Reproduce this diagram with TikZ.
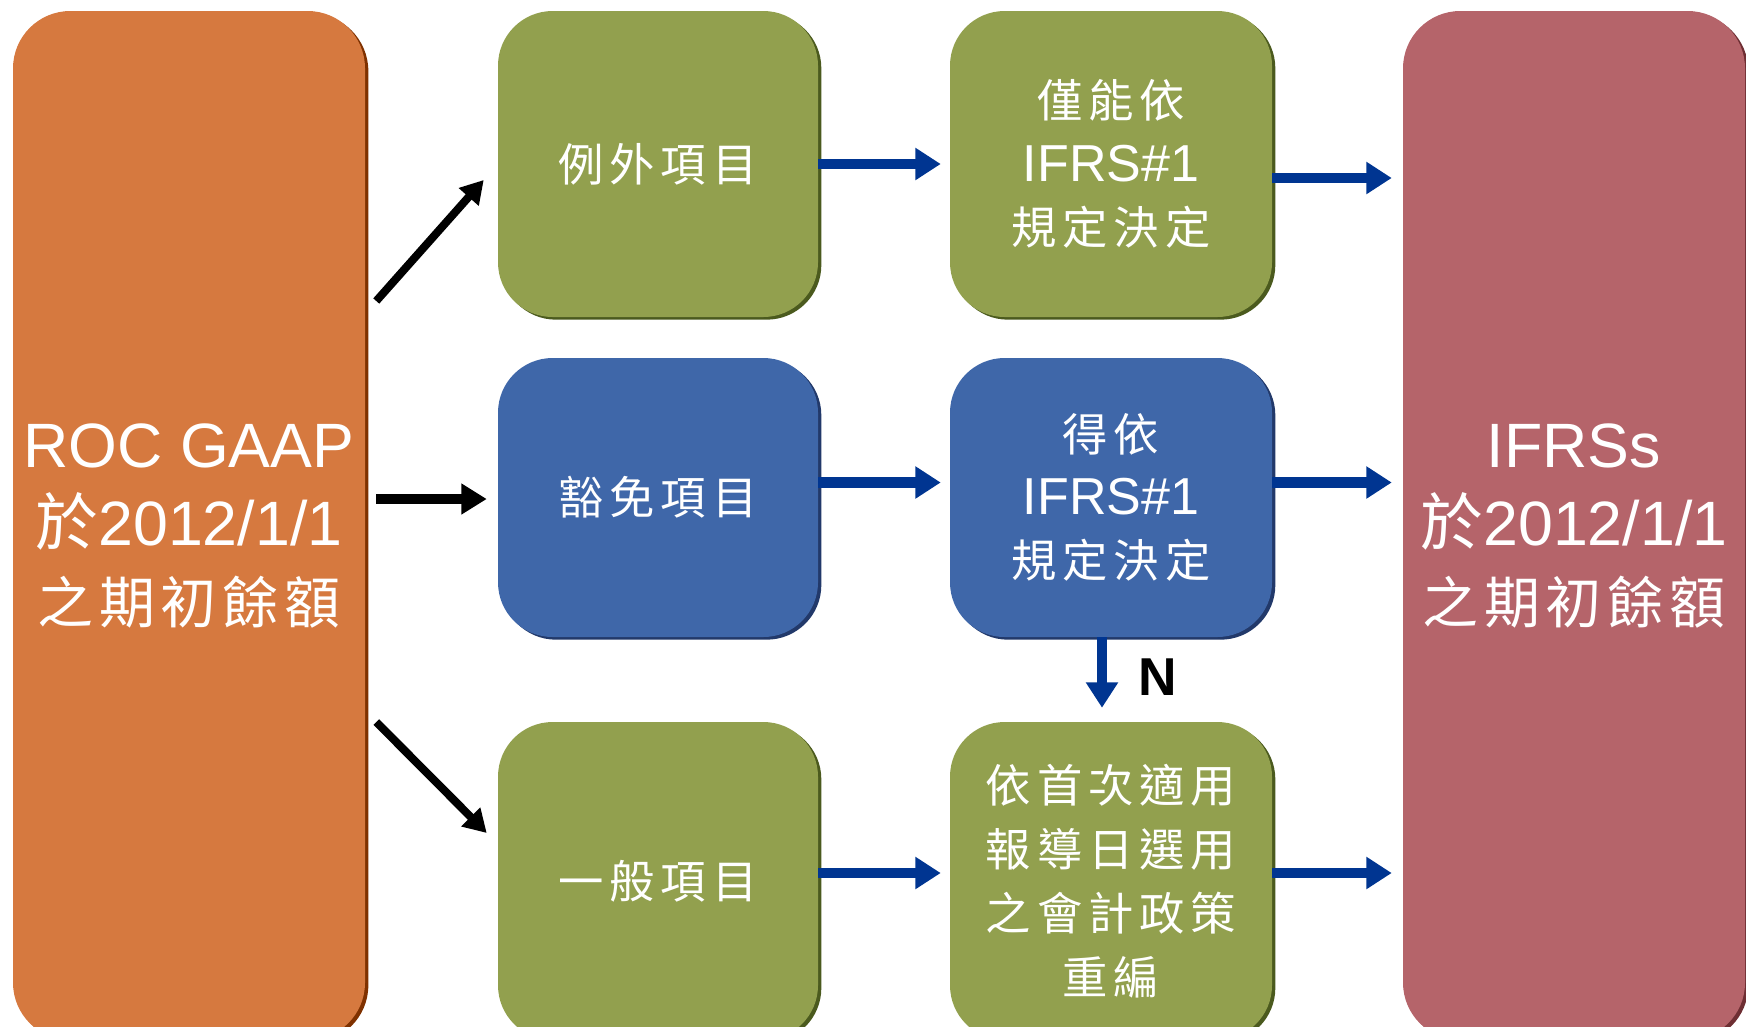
\documentclass[tikz,border=0pt]{standalone}
\usepackage{fontspec}
\setmainfont{Liberation Sans}
\newfontfamily\cjk{Noto Sans CJK TC}[LetterSpace=13]
\newfontfamily\cjkbig{Noto Sans CJK TC}[LetterSpace=10]
\usetikzlibrary{arrows.meta,calc,shadows}
\definecolor{cOrange}{HTML}{D6793F}
\definecolor{cOrangeD}{HTML}{7F3100}
\definecolor{cGreen}{HTML}{92A04E}
\definecolor{cGreenD}{HTML}{4B5A1E}
\definecolor{cBlue}{HTML}{3F67A9}
\definecolor{cBlueD}{HTML}{22396A}
\definecolor{cRed}{HTML}{B5646A}
\definecolor{cRedD}{HTML}{6E2E33}
\definecolor{cArrow}{HTML}{003591}
\tikzset{
  boxbase/.style={rounded corners=41pt, inner sep=0pt, text=white, align=center},
  bigbox/.style={boxbase, rounded corners=43pt, minimum height=771.75pt,
     font=\fontsize{47}{58.5}\selectfont},
  smallbox/.style={boxbase, font=\fontsize{39}{47.5}\selectfont},
  orangebox/.style={bigbox, fill=cOrange, minimum width=264pt,
     general shadow={fill=cOrangeD, shadow xshift=2.5pt, shadow yshift=-2pt}},
  redbox/.style={bigbox, fill=cRed, minimum width=256.5pt,
     general shadow={fill=cRedD, shadow xshift=2.5pt, shadow yshift=-2pt}},
  greenbox/.style={smallbox, fill=cGreen,
     general shadow={fill=cGreenD, shadow xshift=2.5pt, shadow yshift=-2pt}},
  bluebox/.style={smallbox, fill=cBlue,
     general shadow={fill=cBlueD, shadow xshift=2.5pt, shadow yshift=-2pt}},
  barrow/.style={draw=cArrow, line width=8pt, -{Triangle[length=19pt,width=23pt]}},
  karrow/.style={draw=black, line width=6pt, -{Triangle[length=17pt,width=19pt]}},
  kthick/.style={draw=black, line width=8pt, -{Triangle[length=19pt,width=22pt]}},
  nlabel/.style={font=\fontsize{40}{40}\selectfont\bfseries, text=black, inner sep=0pt},
}
\begin{document}
\begin{tikzpicture}[x=0.75pt,y=-0.75pt]
\useasboundingbox (0,0) rectangle (1746,1026);
\clip (0,0) rectangle (1746,1026);
\node[orangebox] (orange) at (189,525.5)
  {ROC GAAP\\{\cjkbig 於}2012/1/1\\{\cjkbig\fontsize{42}{58.5}\selectfont 之期初餘額}};
\node[redbox] (red) at (1574,525.5)
  {IFRSs\\{\cjkbig 於}2012/1/1\\{\cjkbig\fontsize{42}{58.5}\selectfont 之期初餘額}};
\node[greenbox, minimum width=240pt, minimum height=229.5pt] (g1) at (658,164)
  {\cjk\fontsize{34}{47.5}\selectfont 例外項目};
\node[greenbox, minimum width=241.5pt, minimum height=229.5pt] (g2) at (1111,164)
  {{\cjk\fontsize{34}{47.5}\selectfont 僅能依}\\IFRS\#1\\{\cjk\fontsize{34}{47.5}\selectfont 規定決定}};
\node[bluebox, minimum width=240pt, minimum height=209.25pt] (b1) at (658,497.5)
  {\cjk\fontsize{34}{47.5}\selectfont 豁免項目};
\node[bluebox, minimum width=241.5pt, minimum height=209.25pt] (b2) at (1111,497.5)
  {{\cjk\fontsize{34}{47.5}\selectfont 得依}\\IFRS\#1\\{\cjk\fontsize{34}{47.5}\selectfont 規定決定}};
\node[greenbox, minimum width=240pt, minimum height=238.5pt] (g3) at (658,881)
  {\cjk\fontsize{34}{47.5}\selectfont 一般項目};
\node[greenbox, minimum width=241.5pt, minimum height=238.5pt,
      font=\cjk\fontsize{34}{48}\selectfont] (g4) at (1111,881)
  {依首次適用\\報導日選用\\之會計政策\\重編};
\node[nlabel] (n) at (1158,677) {N};
% black arrows from ROC GAAP
\draw[karrow] ($(orange.east)+(11,-224.5)$) -- ($(g1.west)+(-14,16)$);
\draw[kthick] ($(orange.east)+(11,-26.5)$) -- ($(b1.west)+(-11,1.5)$);
\draw[karrow] ($(orange.east)+(11,196.5)$) -- ($(g3.west)+(-11,-48)$);
% blue arrows
\draw[barrow] (g1.east) -- ($(g2.west)+(-9,0)$);
\draw[barrow] ($(g2.east)+(0,14)$) -- ($(red.west |- g2.east)+(-11,14)$);
\draw[barrow] ($(b1.east)+(0,-15)$) -- ($(b2.west)+(-9,-15)$);
\draw[barrow] ($(b2.east)+(0,-15)$) -- ($(red.west |- b2.east)+(-11,-15)$);
\draw[barrow] ($(g3.east)+(0,-8)$) -- ($(g4.west)+(-9,-8)$);
\draw[barrow] ($(g4.east)+(0,-8)$) -- ($(red.west |- g4.east)+(-11,-8)$);
\draw[barrow] ($(b2.south)+(-9,0)$) -- ($(g4.north)+(-9,-14)$);
\end{tikzpicture}
\end{document}
